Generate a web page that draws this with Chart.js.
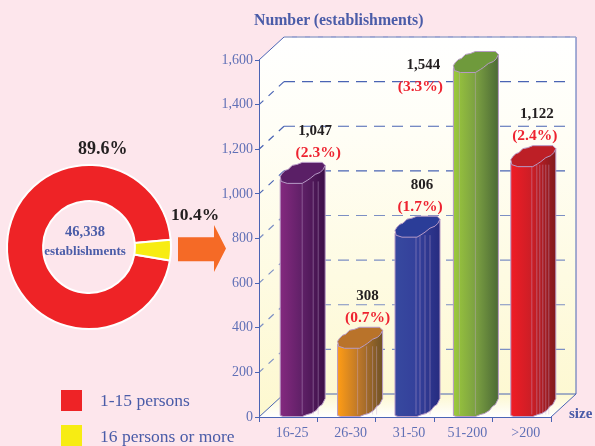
<!DOCTYPE html>
<html>
<head>
<meta charset="utf-8">
<script src="https://cdn.jsdelivr.net/npm/chart.js@4"></script>
<style>
  html, body { margin: 0; padding: 0; background: #fde6ec; overflow: hidden; }
  #page { position: relative; width: 595px; height: 446px; overflow: hidden; font-family: "Liberation Serif", serif; }
  #page canvas { position: absolute; }
  .txt { position: absolute; white-space: nowrap; line-height: 1; }
  .blue { color: #4a5ca8; }
  .bold { font-weight: bold; }
  .dark { color: #231f20; }
  .swatch { position: absolute; left: 61px; width: 21px; height: 21px; }
  #arrow { position: absolute; left: 178px; top: 225px; width: 48px; height: 47px; background: #f56a26;
           clip-path: polygon(0 26%, 75% 26%, 75% 0, 100% 50%, 75% 100%, 75% 77%, 0 77%); }
</style>
</head>
<body>
<div id="page">
  <canvas id="barChart" width="595" height="446" style="left:0;top:0"></canvas>
  <canvas id="ringChart" width="172" height="172" style="left:3px;top:161px"></canvas>

  <span class="txt blue bold" style="left:254px;top:12px;font-size:15.8px">Number (establishments)</span>
  <span class="txt blue bold" style="left:569px;top:406px;font-size:15px">size</span>

  <span class="txt dark bold" style="left:78px;top:139px;font-size:18px">89.6%</span>
  <span class="txt dark bold" style="left:171px;top:206px;font-size:17.5px">10.4%</span>
  <div id="arrow"></div>

  <div class="swatch" style="top:390px;background:#ee2326"></div>
  <div class="swatch" style="top:425px;background:#f7ec13"></div>
  <span class="txt blue" style="left:100px;top:392px;font-size:17.5px">1-15 persons</span>
  <span class="txt blue" style="left:100px;top:428px;font-size:17.5px">16 persons or more</span>
</div>

<script>
const sizeBands = [ '16-25', '26-30', '31-50', '51-200', '>200' ]
const establishments = [ 1047, 308, 806, 1544, 1122 ]
const shareLabels = [ '(2.3%)', '(0.7%)', '(1.7%)', '(3.3%)', '(2.4%)' ]
const yTicks = [ 0, 200, 400, 600, 800, 1000, 1200, 1400, 1600 ]

const ringGroups = [ '1-15 persons', '16 persons or more' ]
// slice sizes as drawn in the picture: the yellow slice is ~4% of the ring even though it is labelled 10.4%
const ringDrawn = [ 96, 4 ]

// styling of the columns
const faceColors = [
    [ '#84297f', '#5e2066', '#3c0f48' ],
    [ '#ff9c15', '#b8752a', '#6f5226' ],
    [ '#37499f', '#34409b', '#272c80' ],
    [ '#9cc93c', '#7ba042', '#4c6a35' ],
    [ '#f01c25', '#c81e26', '#801a1c' ]
]
const topColors = [ '#5a1f66', '#b9732a', '#2b3d98', '#6f9a3c', '#bd1f26' ]
const facets = [
    [ 22, 33, 38 ],
    [ 20, 29, 35, 39 ],
    [ 21, 25, 30, 35 ],
    [ 6, 22 ],
    [ 21, 26, 29, 32, 35, 38 ]
]
const columnShift = [ -8, -9, -10, -10, -11 ]
// label placement per column: value dx, share dx, dy
const labelShift = [ [ 35, 38, 0 ], [ 30, 30, 0 ], [ 27, 25, 0 ], [ -30, -33, 45 ], [ 26, 24, -1 ] ]

const depthX = 25
const depthY = -23
const axisBlue = '#4a64b4'
const tickBlue = '#6070b6'
const frontW = 22
const colW = 45

function wallFill ( ctx, yTop, yBottom ) {
    const g = ctx.createLinearGradient( 0, yTop, 0, yBottom )
    g.addColorStop( 0, '#ffffff' )
    g.addColorStop( 0.25, '#fffef6' )
    g.addColorStop( 1, '#fdf8cf' )
    return g
}

function poly ( ctx, pts ) {
    ctx.beginPath()
    pts.forEach( ( p, i ) => i ? ctx.lineTo( p[ 0 ], p[ 1 ] ) : ctx.moveTo( p[ 0 ], p[ 1 ] ) )
    ctx.closePath()
}

const roomPlugin = {
    id: 'room',
    beforeDraw ( chart ) {
        const { ctx, chartArea: a, scales: { y } } = chart
        ctx.save()
        // side wall + back wall
        ctx.fillStyle = wallFill( ctx, a.top + depthY, a.bottom )
        poly( ctx, [ [ a.left, a.top ], [ a.left + depthX, a.top + depthY ], [ a.right + depthX, a.top + depthY ],
            [ a.right + depthX, a.bottom + depthY ], [ a.right, a.bottom ], [ a.left, a.bottom ] ] )
        ctx.fill()
        // floor
        const floor = ctx.createLinearGradient( 0, a.bottom + depthY, 0, a.bottom )
        floor.addColorStop( 0, '#fdf8cf' )
        floor.addColorStop( 1, '#ffffff' )
        ctx.fillStyle = floor
        poly( ctx, [ [ a.left, a.bottom ], [ a.left + depthX, a.bottom + depthY ], [ a.right + depthX, a.bottom + depthY ], [ a.right, a.bottom ] ] )
        ctx.fill()

        // dashed grid, side wall then back wall
        ctx.lineWidth = 1.2
        yTicks.slice( 1, -1 ).forEach( v => {
            const py = y.getPixelForValue( v )
            ctx.strokeStyle = v > 900 ? '#4a64b4' : '#7c8fc4'
            ctx.setLineDash( [ 7, 7 ] )
            ctx.beginPath()
            ctx.moveTo( a.left + depthX, py + depthY )
            ctx.lineTo( a.left, py )
            ctx.stroke()
            ctx.setLineDash( [ 11, 7 ] )
            ctx.beginPath()
            ctx.moveTo( a.left + depthX, py + depthY )
            ctx.lineTo( a.right + depthX - 7, py + depthY )
            ctx.stroke()
        } )
        ctx.setLineDash( [] )

        // room edges
        ctx.lineWidth = 1
        ctx.strokeStyle = axisBlue
        ctx.beginPath()
        ctx.moveTo( a.left, a.top )
        ctx.lineTo( a.left + depthX, a.top + depthY )
        ctx.lineTo( a.right + depthX, a.top + depthY )
        ctx.lineTo( a.right + depthX, a.bottom + depthY )
        ctx.lineTo( a.right, a.bottom )
        ctx.moveTo( a.right + depthX, a.bottom + depthY )
        ctx.lineTo( a.left + depthX, a.bottom + depthY )
        ctx.lineTo( a.left, a.bottom )
        ctx.stroke()
        ctx.strokeStyle = '#c3c6d8'
        ctx.setLineDash( [ 8, 5 ] )
        ctx.beginPath()
        ctx.moveTo( a.left + depthX, a.top + depthY )
        ctx.lineTo( a.right + depthX, a.top + depthY )
        ctx.stroke()
        ctx.restore()
    },
    afterDatasetsDraw ( chart ) {
        const { ctx } = chart
        const bars = chart.getDatasetMeta( 0 ).data
        ctx.save()
        bars.forEach( ( bar, i ) => {
            const x0 = bar.x + columnShift[ i ]
            const top = bar.y
            const base = bar.base
            const body = [
                [ x0, top - 4 ], [ x0, base - 1 ], [ x0 + 3, base ], [ x0 + frontW, base ], [ x0 + 27, base - 2 ], [ x0 + 31, base - 3 ],
                [ x0 + 36, base - 6 ], [ x0 + 39, base - 10 ], [ x0 + 42, base - 12 ], [ x0 + colW, base - 18 ], [ x0 + colW, top - 18 ]
            ]
            const g = ctx.createLinearGradient( x0, 0, x0 + colW, 0 )
            g.addColorStop( 0, faceColors[ i ][ 0 ] )
            g.addColorStop( 0.5, faceColors[ i ][ 1 ] )
            g.addColorStop( 1, faceColors[ i ][ 2 ] )
            ctx.fillStyle = g
            ctx.strokeStyle = '#b79ac6'
            ctx.lineWidth = 1
            poly( ctx, body )
            ctx.fill()
            ctx.stroke()

            // facet lines down the column
            ctx.strokeStyle = 'rgba(200,170,210,0.4)'
            facets[ i ].forEach( f => {
                ctx.beginPath()
                ctx.moveTo( x0 + f, top - 2 )
                ctx.lineTo( x0 + f, base - 2 )
                ctx.stroke()
            } )

            // column top
            const lid = [
                [ x0, top - 7 ], [ x0 + 2, top - 10 ], [ x0 + 5, top - 13 ], [ x0 + 8, top - 14 ], [ x0 + 12, top - 18 ], [ x0 + 17, top - 19 ],
                [ x0 + 22, top - 21 ], [ x0 + 42, top - 21 ], [ x0 + colW, top - 18 ], [ x0 + 43, top - 14 ], [ x0 + 40, top - 11 ],
                [ x0 + 35, top - 9 ], [ x0 + 30, top - 5 ], [ x0 + 27, top - 3 ], [ x0 + 22, top ], [ x0 + 7, top ], [ x0 + 1, top - 2 ]
            ]
            ctx.fillStyle = topColors[ i ]
            ctx.strokeStyle = '#b79ac6'
            poly( ctx, lid )
            ctx.fill()
            ctx.stroke()
        } )

        // value + share labels
        ctx.textAlign = 'center'
        ctx.textBaseline = 'middle'
        bars.forEach( ( bar, i ) => {
            const x0 = bar.x + columnShift[ i ]
            const dy = labelShift[ i ][ 2 ]
            ctx.font = 'bold 15px "Liberation Serif"'
            ctx.fillStyle = '#231f20'
            ctx.fillText( establishments[ i ].toLocaleString( 'en-US' ), x0 + labelShift[ i ][ 0 ], bar.y - 52 + dy )
            ctx.font = 'bold 15.5px "Liberation Serif"'
            ctx.fillStyle = '#ee2330'
            ctx.fillText( shareLabels[ i ], x0 + labelShift[ i ][ 1 ], bar.y - 30 + dy )
        } )
        ctx.restore()
    }
}

new Chart( document.getElementById( 'barChart' ), {
    type: 'bar',
    data: {
        labels: sizeBands,
        datasets: [ {
            label: 'Number (establishments)',
            data: establishments,
            backgroundColor: 'rgba(0,0,0,0)',
            barThickness: colW
        } ]
    },
    options: {
        responsive: false,
        animation: false,
        layout: { padding: { left: 0, right: 44, top: 60, bottom: 0 } },
        plugins: { legend: { display: false }, tooltip: { enabled: false } },
        scales: {
            x: {
                afterFit: s => { s.height = 29 },
                border: { color: axisBlue },
                grid: { drawOnChartArea: false, color: axisBlue, tickLength: 5 },
                ticks: {
                    color: tickBlue,
                    labelOffset: 4,
                    padding: 3,
                    maxRotation: 0,
                    font: { family: 'Liberation Serif', size: 14 }
                }
            },
            y: {
                min: 0,
                max: 1600,
                afterFit: s => { s.width = 259 },
                afterBuildTicks: s => { s.ticks = yTicks.map( v => ( { value: v } ) ) },
                border: { color: axisBlue },
                grid: { drawOnChartArea: false, color: axisBlue, tickLength: 4 },
                ticks: {
                    color: tickBlue,
                    padding: 2,
                    font: { family: 'Liberation Serif', size: 14 },
                    callback: v => v.toLocaleString( 'en-US' )
                }
            }
        }
    },
    plugins: [ roomPlugin ]
} )

const ringCenter = {
    id: 'ringCenter',
    afterDraw ( chart ) {
        const { ctx } = chart
        const m = chart.getDatasetMeta( 0 ).data[ 0 ]
        ctx.save()
        ctx.textAlign = 'center'
        ctx.textBaseline = 'middle'
        ctx.fillStyle = '#4a5ca8'
        ctx.font = 'bold 14.5px "Liberation Serif"'
        ctx.fillText( '46,338', m.x - 4, m.y - 15 )
        ctx.font = 'bold 13px "Liberation Serif"'
        ctx.fillText( 'establishments', m.x - 4, m.y + 5 )
        ctx.restore()
    }
}

new Chart( document.getElementById( 'ringChart' ), {
    type: 'doughnut',
    data: {
        labels: ringGroups,
        datasets: [ {
            data: ringDrawn,
            backgroundColor: [ '#ee2326', '#f7ec13' ],
            borderColor: '#ffffff',
            borderWidth: 2
        } ]
    },
    options: {
        responsive: false,
        animation: false,
        cutout: '56%',
        radius: 82,
        rotation: 99.4,
        layout: { padding: 0 },
        plugins: { legend: { display: false }, tooltip: { enabled: false } }
    },
    plugins: [ ringCenter ]
} )
</script>
</body>
</html>
